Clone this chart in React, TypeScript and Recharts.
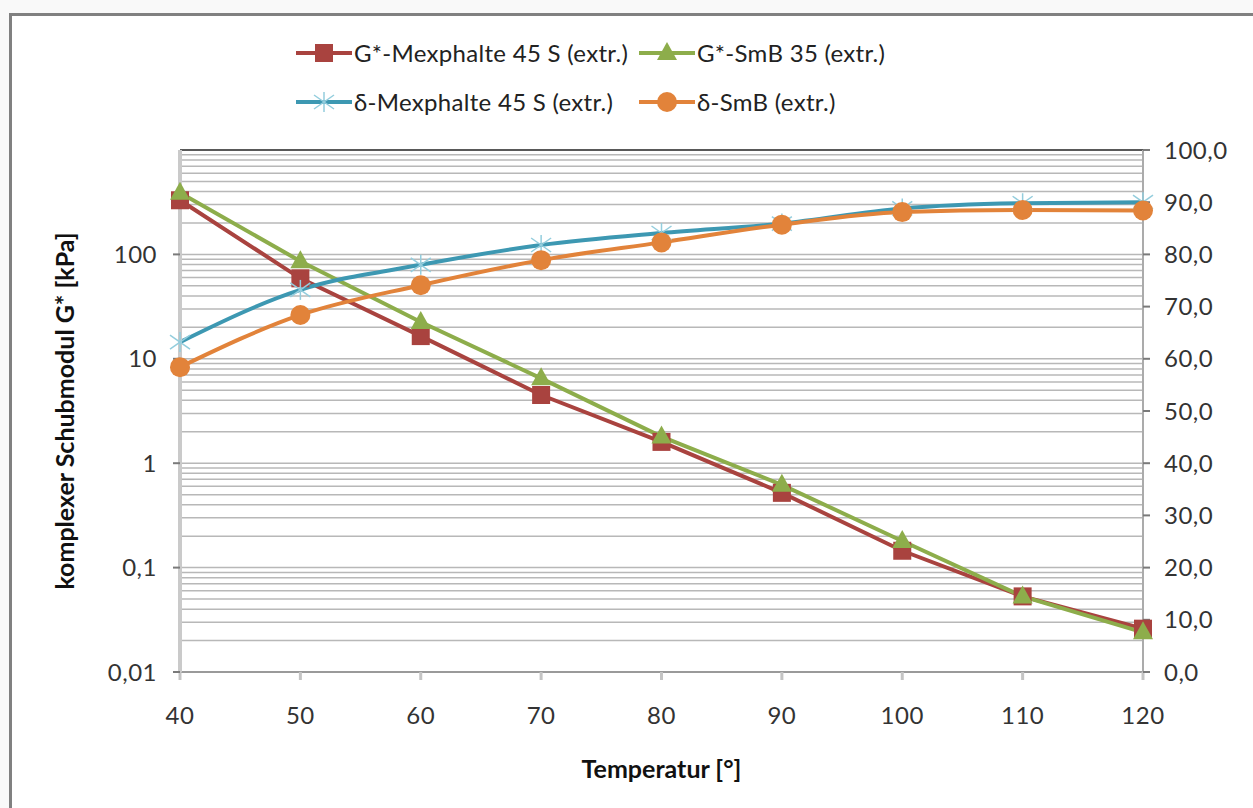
import React from "react";
import {
  LineChart,
  Line,
  XAxis,
  YAxis,
  ReferenceLine,
  Label,
} from "recharts";

const temperatures = [40, 50, 60, 70, 80, 90, 100, 110, 120];
const gMexphalte = [330, 59, 16.5, 4.5, 1.6, 0.52, 0.145, 0.053, 0.026];
const gSmB = [390, 86, 22.5, 6.5, 1.8, 0.62, 0.18, 0.053, 0.024];
const deltaMexphalte = [63.2, 73.2, 78.0, 81.8, 84.1, 85.9, 88.8, 89.8, 90.0];
const deltaSmB = [58.4, 68.4, 74.1, 78.9, 82.3, 85.7, 88.1, 88.5, 88.4];

const xTicks = [40, 50, 60, 70, 80, 90, 100, 110, 120];
const leftTicks = [0.01, 0.1, 1, 10, 100];
const rightTicks = [0, 10, 20, 30, 40, 50, 60, 70, 80, 90, 100];
const decades = [0.01, 0.1, 1, 10, 100];

const RED = "#A9433F";
const GREEN = "#8DAD4B";
const BLUE = "#3D98B2";
const STAR = "#93CDDD";
const ORANGE = "#E2833A";

const chartData = temperatures.map((t, i) => ({
  t,
  gMex: gMexphalte[i],
  gSmB: gSmB[i],
  dMex: deltaMexphalte[i],
  dSmB: deltaSmB[i],
}));

// log minor gridlines on the left axis
const gridValues: number[] = [];
decades.forEach((d) => {
  for (let k = 1; k <= 9; k++) gridValues.push(Number((d * k).toPrecision(3)));
});

const fmtLeft = (v: number) => String(v).replace(".", ",");
const fmtRight = (v: number) => v.toFixed(1).replace(".", ",");

const tickStyle = { fill: "#333", fontSize: 24, letterSpacing: 0.5 };

function SquareDot(props: any) {
  const { cx, cy } = props;
  if (cx == null || cy == null) return null;
  return <rect x={cx - 9} y={cy - 9} width={18} height={18} fill={RED} />;
}

function TriangleDot(props: any) {
  const { cx, cy } = props;
  if (cx == null || cy == null) return null;
  return (
    <polygon
      points={`${cx},${cy - 11} ${cx + 10},${cy + 7} ${cx - 10},${cy + 7}`}
      fill={GREEN}
    />
  );
}

function StarDot(props: any) {
  const { cx, cy } = props;
  if (cx == null || cy == null) return null;
  const r = 10;
  return (
    <g stroke={STAR} strokeWidth={1.5}>
      <line x1={cx - r} y1={cy - r * 0.7} x2={cx + r} y2={cy + r * 0.7} />
      <line x1={cx - r} y1={cy + r * 0.7} x2={cx + r} y2={cy - r * 0.7} />
      <line x1={cx} y1={cy - r} x2={cx} y2={cy + r} />
    </g>
  );
}

function CircleDot(props: any) {
  const { cx, cy } = props;
  if (cx == null || cy == null) return null;
  return <circle cx={cx} cy={cy} r={10} fill={ORANGE} />;
}

const legendItems = [
  { name: "G*-Mexphalte 45 S (extr.)", color: RED, Dot: SquareDot, row: 0, col: 0 },
  { name: "G*-SmB 35 (extr.)", color: GREEN, Dot: TriangleDot, row: 0, col: 1 },
  { name: "δ-Mexphalte 45 S (extr.)", color: BLUE, Dot: StarDot, row: 1, col: 0 },
  { name: "δ-SmB (extr.)", color: ORANGE, Dot: CircleDot, row: 1, col: 1 },
];

function ChartLegend() {
  return (
    <div style={{ position: "absolute", left: 296, top: 38 }}>
      {legendItems.map((it) => (
        <div
          key={it.name}
          style={{
            position: "absolute",
            left: it.col * 343,
            top: it.row * 49,
            display: "flex",
            alignItems: "center",
            whiteSpace: "nowrap",
            fontSize: 24,
            letterSpacing: 0.3,
            color: "#222",
          }}
        >
          <svg width={56} height={28}>
            <line x1={0} y1={14} x2={56} y2={14} stroke={it.color} strokeWidth={4} />
            <it.Dot cx={28} cy={14} />
          </svg>
          <span style={{ marginLeft: 2 }}>{it.name}</span>
        </div>
      ))}
    </div>
  );
}

const renderYLabel = (props: any) => {
  const vb = props.viewBox;
  const x = vb.x + 64;
  const y = vb.y + vb.height / 2;
  return (
    <text
      x={x}
      y={y}
      transform={`rotate(-90 ${x} ${y})`}
      textAnchor="middle"
      dominantBaseline="central"
      fontSize={25}
      fontWeight="bold"
      fill="#111"
    >
      komplexer Schubmodul G* [kPa]
    </text>
  );
};

const renderXLabel = (props: any) => {
  const vb = props.viewBox;
  const x = vb.x + vb.width / 2;
  return (
    <text
      x={x}
      y={vb.y + 96}
      textAnchor="middle"
      dominantBaseline="central"
      fontSize={25}
      fontWeight="bold"
      fill="#111"
    >
      Temperatur [°]
    </text>
  );
};

export default function App() {
  return (
    <div
      style={{
        position: "absolute",
        left: 0,
        top: 0,
        width: 1253,
        height: 808,
        overflow: "hidden",
        background: "#f9f9f9",
        fontFamily: "Lato, 'Open Sans', sans-serif",
      }}
    >
      <div
        style={{
          position: "absolute",
          left: 9,
          top: 13,
          width: 1260,
          height: 820,
          borderLeft: "3px solid #808080",
          borderTop: "3px solid #808080",
          background: "#fff",
        }}
      />
      <div style={{ position: "absolute", left: 0, top: 0 }}>
        <LineChart
          width={1253}
          height={808}
          data={chartData}
          margin={{ top: 150, right: 0, bottom: 76, left: 0 }}
        >
          <XAxis
            dataKey="t"
            type="number"
            domain={[40, 120]}
            ticks={xTicks}
            height={60}
            tickSize={8}
            tickMargin={27}
            axisLine={{ stroke: "#8a8a8a", strokeWidth: 1.5 }}
            tickLine={{ stroke: "#c4c4c4", strokeWidth: 3 }}
            tick={tickStyle}
          >
            <Label content={renderXLabel} />
          </XAxis>
          <YAxis
            yAxisId="left"
            orientation="left"
            scale="log"
            domain={[0.01, 1000]}
            ticks={leftTicks}
            allowDataOverflow
            width={180}
            tickSize={7}
            tickMargin={16}
            tickFormatter={fmtLeft}
            axisLine={{ stroke: "#cacaca", strokeWidth: 4 }}
            tickLine={{ stroke: "#7a7a7a", strokeWidth: 2 }}
            tick={tickStyle}
          >
            <Label content={renderYLabel} />
          </YAxis>
          <YAxis
            yAxisId="right"
            orientation="right"
            domain={[0, 100]}
            ticks={rightTicks}
            width={110}
            tickSize={7}
            tickMargin={14}
            tickFormatter={fmtRight}
            axisLine={{ stroke: "#ababab", strokeWidth: 2 }}
            tickLine={{ stroke: "#7a7a7a", strokeWidth: 2 }}
            tick={tickStyle}
          />
          {gridValues.map((v) => (
            <ReferenceLine
              key={v}
              yAxisId="left"
              y={v}
              stroke="#b8b8b8"
              strokeWidth={1.5}
            />
          ))}
          <ReferenceLine yAxisId="left" y={1000} stroke="#222" strokeWidth={1.5} />
          <Line
            yAxisId="left"
            type="linear"
            dataKey="gMex"
            stroke={RED}
            strokeWidth={4}
            dot={<SquareDot />}
            isAnimationActive={false}
          />
          <Line
            yAxisId="left"
            type="linear"
            dataKey="gSmB"
            stroke={GREEN}
            strokeWidth={4}
            dot={<TriangleDot />}
            isAnimationActive={false}
          />
          <Line
            yAxisId="right"
            type="monotone"
            dataKey="dMex"
            stroke={BLUE}
            strokeWidth={4}
            dot={<StarDot />}
            isAnimationActive={false}
          />
          <Line
            yAxisId="right"
            type="monotone"
            dataKey="dSmB"
            stroke={ORANGE}
            strokeWidth={4}
            dot={<CircleDot />}
            isAnimationActive={false}
          />
        </LineChart>
      </div>
      <ChartLegend />
    </div>
  );
}
